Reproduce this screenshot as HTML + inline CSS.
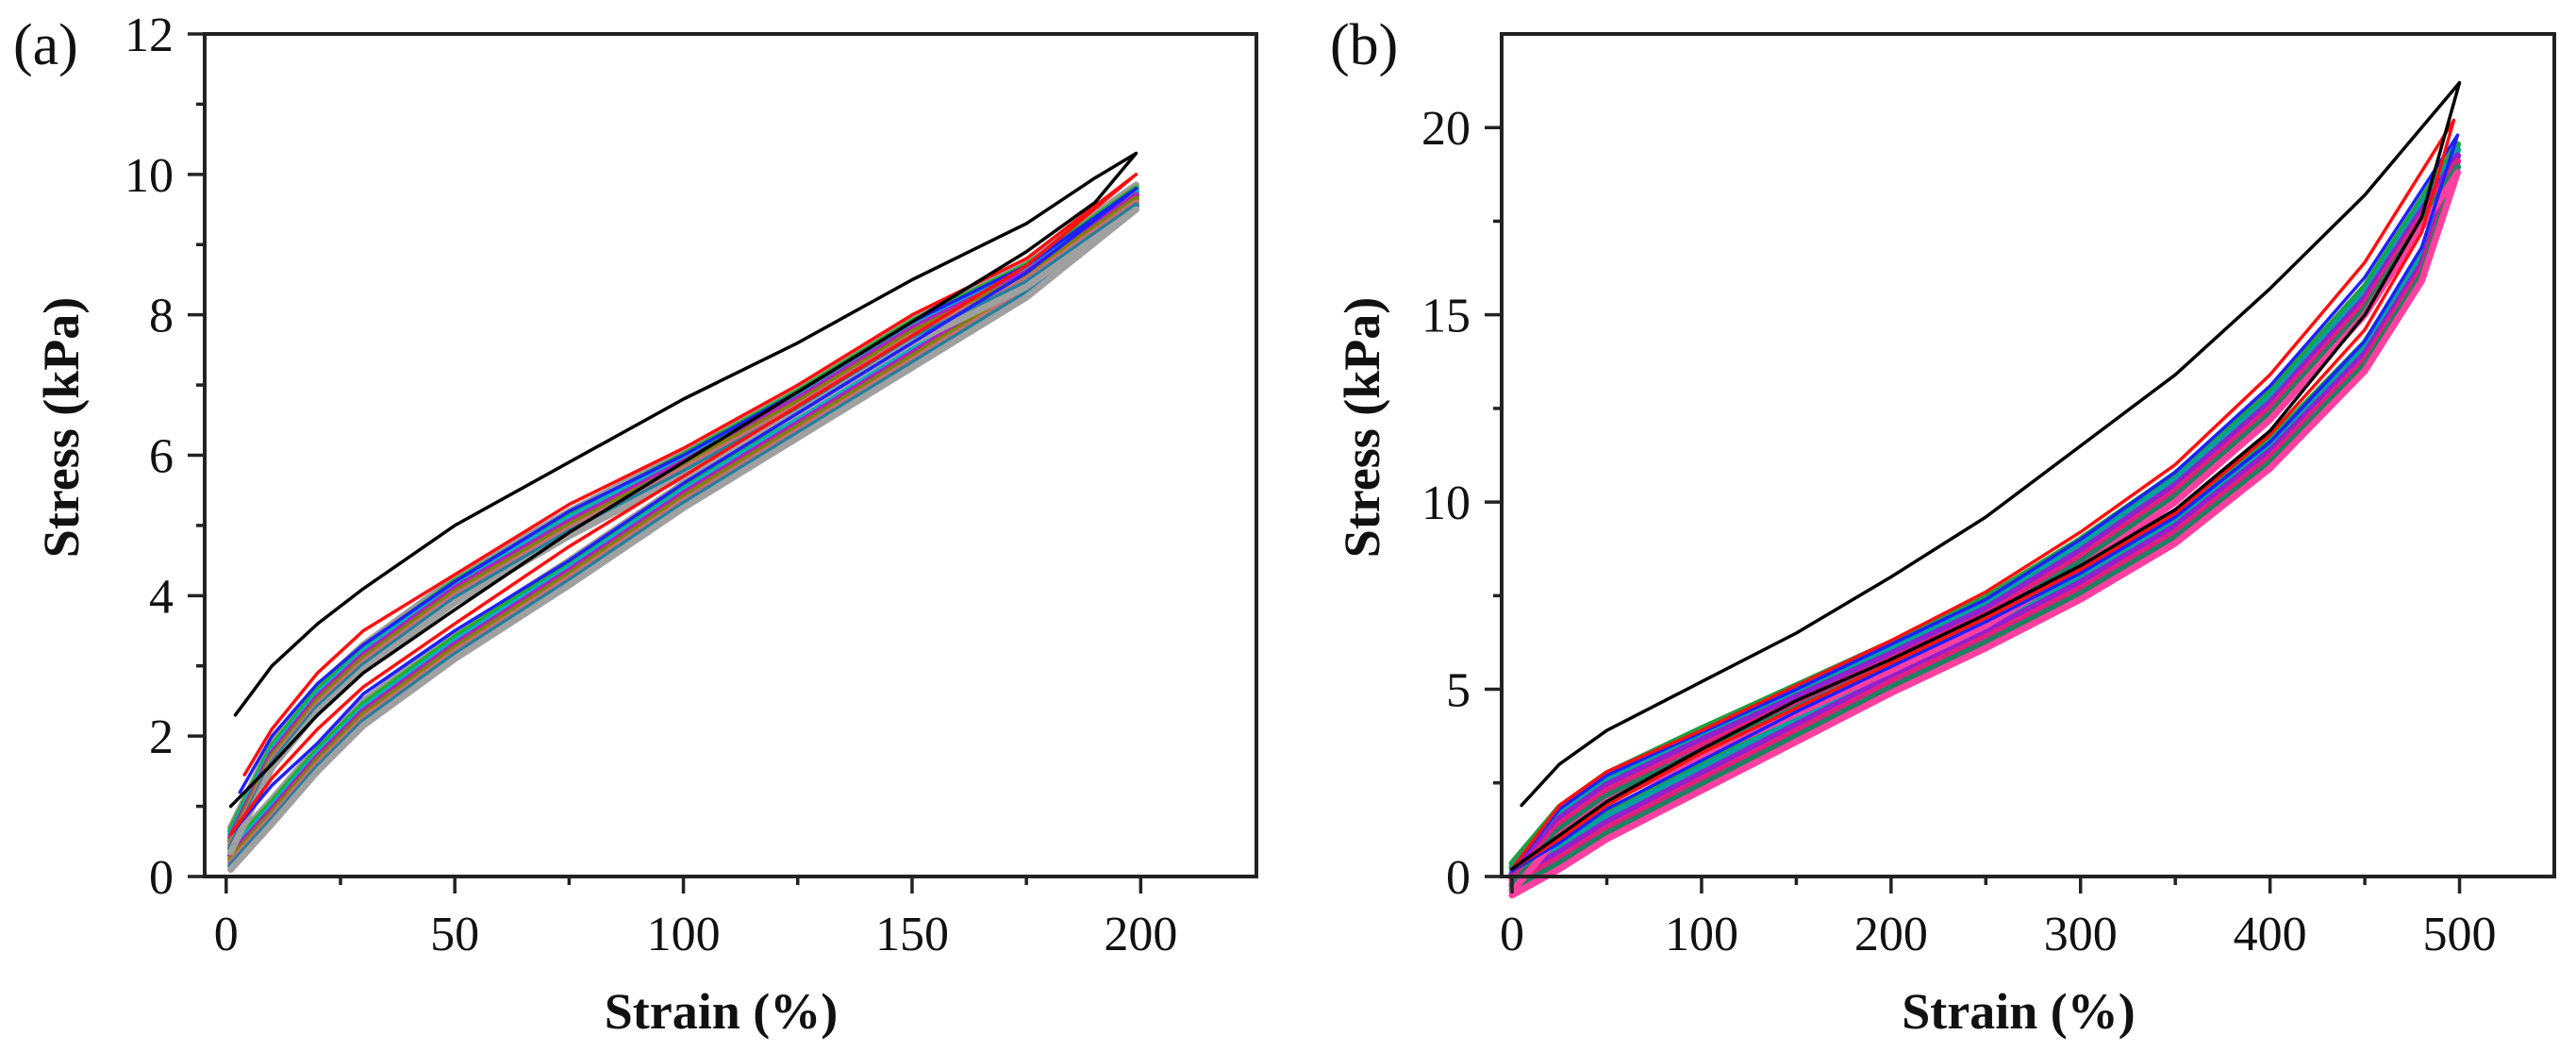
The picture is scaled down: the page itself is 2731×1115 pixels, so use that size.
<!DOCTYPE html>
<html><head><meta charset="utf-8"><style>
html,body{margin:0;padding:0;background:#fff;}
svg{display:block;font-family:"Liberation Serif",serif;}
</style></head><body>
<svg id="fig" width="2731" height="1115" viewBox="0 0 2731 1115" xmlns="http://www.w3.org/2000/svg">
<g id="pa"></g>
<g id="pb"></g>
</svg>
<script>
// ---------- Panel (a) data ----------
const aXTicks = [0, 50, 100, 150, 200];
const aYTicks = [0, 2, 4, 6, 8, 10, 12];
const aBlackX = [2, 10, 20, 30, 50, 75, 100, 125, 150, 175, 190, 199, 190, 175, 150, 125, 100, 75, 50, 30, 20, 10, 1];
const aBlackY = [2.3, 3.0, 3.6, 4.1, 5.0, 5.9, 6.8, 7.6, 8.5, 9.3, 9.95, 10.3, 9.6, 8.9, 7.9, 6.9, 5.9, 4.9, 3.8, 2.9, 2.3, 1.6, 1.0];
const aRedX = [4, 10, 20, 30, 50, 75, 100, 125, 150, 175, 199, 175, 150, 125, 100, 75, 50, 30, 20, 10, 1];
const aRedY = [1.45, 2.1, 2.9, 3.5, 4.3, 5.3, 6.1, 7.0, 8.0, 8.8, 10.0, 8.7, 7.7, 6.7, 5.7, 4.7, 3.6, 2.7, 2.1, 1.4, 0.6];
const aBlueX = [3, 10, 20, 30, 50, 75, 100, 125, 150, 175, 199, 175, 150, 125, 100, 75, 50, 30, 20, 10, 1];
const aBlueY = [1.2, 2.0, 2.75, 3.3, 4.2, 5.2, 6.0, 6.9, 7.9, 8.7, 9.8, 8.6, 7.6, 6.6, 5.6, 4.5, 3.5, 2.6, 1.9, 1.3, 0.6];
const aBandX = [1, 10, 20, 30, 50, 75, 100, 125, 150, 175, 199, 175, 150, 125, 100, 75, 50, 30, 20, 10, 1];
const aBandY = [0.6, 1.8, 2.6, 3.2, 4.15, 5.1, 5.95, 6.85, 7.85, 8.65, 9.75, 8.5, 7.5, 6.5, 5.5, 4.4, 3.35, 2.4, 1.75, 1.0, 0.35];
const aCycleShift = [0.1, 0.05, 0, -0.05, -0.1, -0.15, -0.2, -0.25];
const aCycleColors = ['#9b9b9b','#20b020','#00b0c0','#b020c0','#808000','#c07070','#2080a0','#a0a0a0'];

// ---------- Panel (b) data ----------
const bXTicks = [0, 100, 200, 300, 400, 500];
const bYTicks = [0, 5, 10, 15, 20];
const bBlackX = [5, 25, 50, 100, 150, 200, 250, 300, 350, 400, 450, 500, 480, 450, 400, 350, 300, 250, 200, 150, 100, 50, 25, 0];
const bBlackY = [1.9, 3.0, 3.9, 5.2, 6.5, 8.0, 9.6, 11.5, 13.4, 15.7, 18.2, 21.2, 17.6, 15.0, 11.9, 9.8, 8.3, 7.0, 5.8, 4.7, 3.4, 2.0, 1.1, 0.2];
const bRedX = [0, 25, 50, 100, 150, 200, 250, 300, 350, 400, 450, 497, 480, 450, 400, 350, 300, 250, 200, 150, 100, 50, 25, 0];
const bRedY = [0.2, 1.9, 2.8, 3.9, 5.1, 6.3, 7.6, 9.2, 11.0, 13.4, 16.4, 20.2, 17.2, 14.6, 11.8, 9.7, 8.2, 6.9, 5.7, 4.5, 3.3, 1.9, 1.0, 0.2];
const bBlueX = [0, 25, 50, 100, 150, 200, 250, 300, 350, 400, 450, 499, 480, 450, 400, 350, 300, 250, 200, 150, 100, 50, 25, 0];
const bBlueY = [0.2, 1.8, 2.7, 3.85, 5.0, 6.2, 7.4, 9.0, 10.8, 13.1, 16.0, 19.8, 16.8, 14.3, 11.6, 9.6, 8.1, 6.8, 5.6, 4.4, 3.1, 1.8, 0.9, 0.15];
const bBandX = [0, 25, 50, 100, 150, 200, 250, 300, 350, 400, 450, 499, 480, 450, 400, 350, 300, 250, 200, 150, 100, 50, 25, 0];
const bBandY = [0.2, 1.7, 2.6, 3.8, 4.95, 6.1, 7.3, 8.85, 10.6, 12.8, 15.6, 19.4, 16.5, 14.1, 11.5, 9.5, 8.0, 6.7, 5.5, 4.2, 2.9, 1.6, 0.8, 0.1];
const bCycleShift = [0.15, 0, -0.15, -0.3, -0.45, -0.6];
const bCycleColors = ['#20a040','#00a0a0','#9020d0','#e02080','#208060','#ff40a0'];

const NS = 'http://www.w3.org/2000/svg';
function mk(parent, tag, attrs) {
  const el = document.createElementNS(NS, tag);
  for (const k in attrs) el.setAttribute(k, attrs[k]);
  parent.appendChild(el);
  return el;
}

function panel(g, cfg) {
  const sx = v => cfg.x0 + (v - cfg.xmin) / (cfg.xmax - cfg.xmin) * (cfg.x1 - cfg.x0);
  const sy = v => cfg.yb - (v - cfg.ymin) / (cfg.ymax - cfg.ymin) * (cfg.yb - cfg.yt);
  const line = (xs, ys, color, w, name) => {
    const pts = xs.map((x, i) => sx(x).toFixed(1) + ',' + sy(ys[i]).toFixed(1)).join(' ');
    const p = mk(g, 'polyline', {points: pts, fill: 'none', stroke: color, 'stroke-width': w, 'stroke-linejoin': 'round', 'stroke-linecap': 'round'});
    
    
  };
  // band cycles
  cfg.shift.forEach((s, i) => {
    line(cfg.bandX, cfg.bandY.map(v => v + s), cfg.colors[i], 7, 'cycle-' + (i + 4) + '-curve');
  });
  line(cfg.blueX, cfg.blueY, '#2020ff', 3.5, 'cycle-3-curve');
  line(cfg.redX, cfg.redY, '#ff1010', 3.5, 'cycle-2-curve');
  line(cfg.blackX, cfg.blackY, '#000', 3.5, 'cycle-1-curve');
  // frame
  const fr = mk(g, 'rect', {x: cfg.x0, y: cfg.yt, width: cfg.x1 - cfg.x0, height: cfg.yb - cfg.yt, fill: 'none', stroke: '#222', 'stroke-width': 4});
  
  
  // x ticks
  cfg.xt.forEach((t, i) => {
    const x = sx(t);
    mk(g, 'line', {x1: x, x2: x, y1: cfg.yb, y2: cfg.yb + 18, stroke: '#222', 'stroke-width': 3.5});
    const tx = mk(g, 'text', {x: x, y: cfg.yb + 78, 'font-size': 52, 'text-anchor': 'middle', fill: '#111'});
    tx.textContent = t;
    
    
    if (i < cfg.xt.length - 1) {
      const m = sx((t + cfg.xt[i + 1]) / 2);
      mk(g, 'line', {x1: m, x2: m, y1: cfg.yb, y2: cfg.yb + 9, stroke: '#222', 'stroke-width': 3.5});
    }
  });
  const lastM = sx(cfg.xt[cfg.xt.length - 1] + (cfg.xt[1] - cfg.xt[0]) / 2);
  if (lastM < cfg.x1 - 5) mk(g, 'line', {x1: lastM, x2: lastM, y1: cfg.yb, y2: cfg.yb + 9, stroke: '#222', 'stroke-width': 3.5});
  // y ticks
  cfg.yt2.forEach((t, i) => {
    const y = sy(t);
    mk(g, 'line', {x1: cfg.x0, x2: cfg.x0 - 18, y1: y, y2: y, stroke: '#222', 'stroke-width': 3.5});
    const ty = mk(g, 'text', {x: cfg.x0 - 33, y: y + 18, 'font-size': 52, 'text-anchor': 'end', fill: '#111'});
    ty.textContent = t;
    
    
    const nxt = i < cfg.yt2.length - 1 ? cfg.yt2[i + 1] : t + (cfg.yt2[1] - cfg.yt2[0]);
    const mv = (t + nxt) / 2;
    if (mv < cfg.ymax) {
      const m = sy(mv);
      mk(g, 'line', {x1: cfg.x0, x2: cfg.x0 - 9, y1: m, y2: m, stroke: '#222', 'stroke-width': 3.5});
    }
  });
  // titles
  const xtl = mk(g, 'text', {x: (cfg.x0 + cfg.x1) / 2 - 10, y: 1090, 'font-size': 54, 'font-weight': 'bold', 'text-anchor': 'middle', fill: '#111'});
  xtl.textContent = 'Strain (%)';
  
  
  const ytl = mk(g, 'text', {x: 0, y: 0, 'font-size': 54, 'font-weight': 'bold', 'text-anchor': 'middle', fill: '#111', transform: 'translate(' + cfg.ytx + ',453) rotate(-90)'});
  ytl.textContent = 'Stress (kPa)';
  
  
  const pl = mk(g, 'text', {x: cfg.plx, y: 68, 'font-size': 62, fill: '#111'});
  pl.textContent = cfg.label;
  
  
}

panel(document.getElementById('pa'), {
  x0: 217, x1: 1332, yt: 36, yb: 929, xmin: -4.7, xmax: 225.3, ymin: 0, ymax: 12,
  xt: aXTicks, yt2: aYTicks, label: '(a)', plx: 14, ytx: 83,
  blackX: aBlackX, blackY: aBlackY, redX: aRedX, redY: aRedY, blueX: aBlueX, blueY: aBlueY,
  bandX: aBandX, bandY: aBandY, shift: aCycleShift, colors: aCycleColors
});
panel(document.getElementById('pb'), {
  x0: 1592, x1: 2708, yt: 36, yb: 929, xmin: -5.5, xmax: 550, ymin: 0, ymax: 22.5,
  xt: bXTicks, yt2: bYTicks, label: '(b)', plx: 1410, ytx: 1462,
  blackX: bBlackX, blackY: bBlackY, redX: bRedX, redY: bRedY, blueX: bBlueX, blueY: bBlueY,
  bandX: bBandX, bandY: bBandY, shift: bCycleShift, colors: bCycleColors
});
</script>
</body></html>
